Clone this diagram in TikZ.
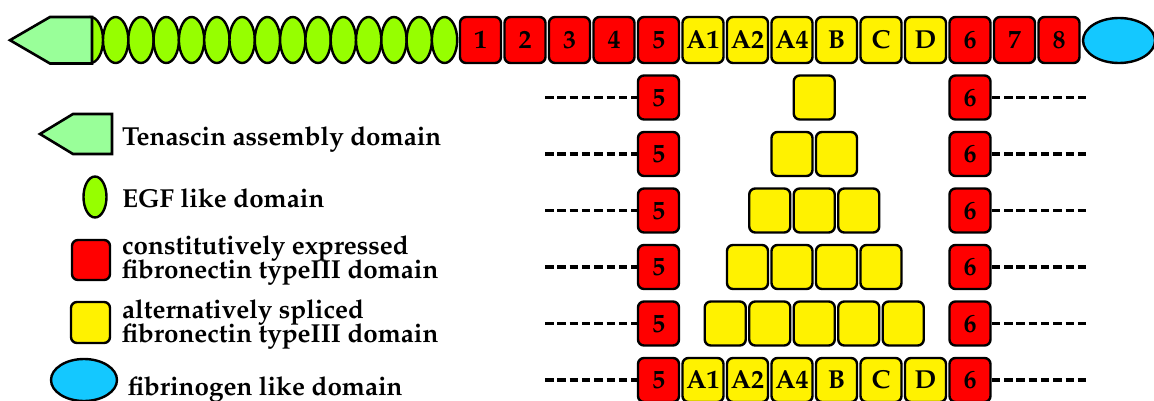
\documentclass[tikz,border=0pt]{standalone}
\usepackage[T1]{fontenc}
\usepackage{mathpazo}
\usetikzlibrary{shapes.geometric}
\definecolor{tgreen}{RGB}{153,255,153}
\definecolor{egfgreen}{RGB}{150,255,0}
\definecolor{fibcyan}{RGB}{20,200,255}
\newcommand{\lblfont}{\fontsize{26}{20}\selectfont\bfseries}
\newcommand{\legfont}{\fontsize{26}{20}\selectfont\bfseries}
\begin{document}
\begin{tikzpicture}[x=1pt,y=-1pt,
  dom/.style={draw, line width=2.4pt, rounded corners=6pt, minimum width=41pt, minimum height=46pt, inner sep=0pt, font=\lblfont},
  cfn/.style={dom, fill=red},
  afn/.style={dom, fill=yellow},
  egf/.style={draw, ellipse, fill=egfgreen, line width=2.4pt, minimum width=25.3pt, minimum height=46pt, inner sep=0pt},
  fib/.style={draw, ellipse, fill=fibcyan, line width=2.4pt, inner sep=0pt},
  tena/.style={draw, fill=tgreen, line width=2.6pt, line join=miter},
  dashline/.style={line width=3.8pt, dash pattern=on 8.5pt off 3.8pt},
  legtext/.style={anchor=base west, inner sep=0pt, font=\legfont}]
\useasboundingbox (0,0) rectangle (1154,401);
% top row
\node[egf] (eh) at (90.4,40) {};
\draw[tena] (10,40.2) -- (50,17) -- (92,17) -- (92,63.5) -- (50,63.5) -- cycle;
\foreach \i in {0,...,13} \node[egf] (e\i) at ({115.65+25.3*\i},40) {};
\foreach \lab/\sty [count=\i from 0] in {1/cfn,2/cfn,3/cfn,4/cfn,5/cfn,A1/afn,A2/afn,A4/afn,B/afn,C/afn,D/afn,6/cfn,7/cfn,8/cfn}
  \node[\sty] (t\i) at ({480.5+44.5*\i},40) {\lab};
\node[fib, minimum width=72pt, minimum height=45pt] (fg) at (1119,40.5) {};
% spliced variants
\foreach \r in {1,...,6}{
  \pgfmathsetmacro{\yy}{97.5+56.5*(\r-1)}
  \node[cfn, minimum height=44pt] (l\r) at (658.5,\yy) {5};
  \node[cfn, minimum height=44pt] (r\r) at (970,\yy) {6};
  \coordinate (ls\r) at (545,\yy);
  \coordinate (re\r) at (1088,\yy);
  \draw[dashline] (ls\r) -- (l\r);
  \draw[dashline] (r\r) -- (re\r);
}
\foreach \r in {1,...,5}{
  \pgfmathsetmacro{\yy}{97.5+56.5*(\r-1)}
  \foreach \j in {1,...,\r}{
    \pgfmathsetmacro{\xx}{814.25+44.5*(\j-(\r+1)/2)}
    \node[afn, minimum height=44pt] (y\r-\j) at (\xx,\yy) {};
  }
}
\foreach \lab [count=\j] in {A1,A2,A4,B,C,D}
  \node[afn, minimum height=44pt] (y6-\j) at ({658.5+44.5*\j},380) {\lab};
% legend
\draw[tena] (40,134) -- (73,114) -- (112,114) -- (112,154) -- (73,154) -- cycle;
\node[legtext] (lt1) at (122,145.5) {Tenascin assembly domain};
\node[egf, minimum width=23pt, minimum height=41pt] (le) at (95,197) {};
\node[legtext] (lt2) at (122,207) {EGF like domain};
\node[cfn, minimum width=38pt, minimum height=40pt] (lc) at (91,260) {};
\node[legtext] (lt3a) at (122,254.5) {constitutively expressed};
\node[legtext] (lt3b) at (122,278.5) {fibronectin typeIII domain};
\node[afn, minimum width=39pt, minimum height=41pt] (la) at (90.5,322.5) {};
\node[legtext] (lt4a) at (122,318.5) {alternatively spliced};
\node[legtext] (lt4b) at (122,342.5) {fibronectin typeIII domain};
\node[fib, minimum width=66pt, minimum height=42pt] (lf) at (84,380) {};
\node[legtext] (lt5) at (128,395) {fibrinogen like domain};
\end{tikzpicture}
\end{document}
